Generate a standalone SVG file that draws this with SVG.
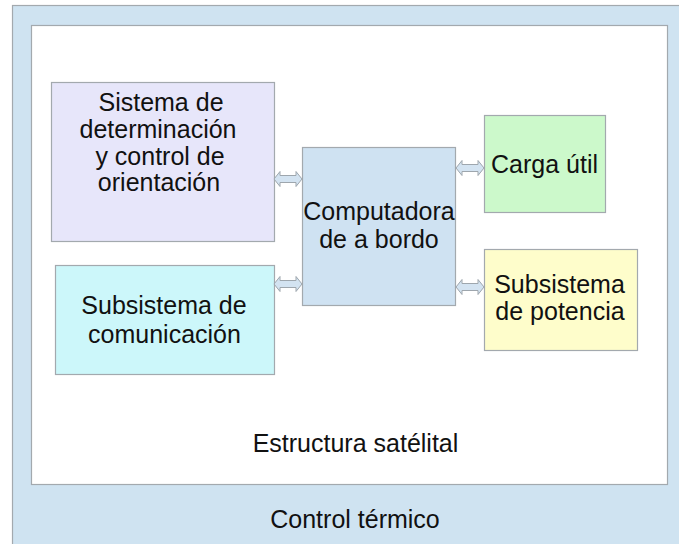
<svg xmlns="http://www.w3.org/2000/svg" width="679" height="544" viewBox="0 0 679 544">
<style>
  .box { stroke: #a3a9ae; stroke-width: 1.2; }
  .t { font-family: "Liberation Sans", Arial, sans-serif; font-size: 25px; fill: #111; text-anchor: middle; }
  .arr { fill: #d3e3f1; stroke: #9ea6ad; stroke-width: 1; }
</style>
<rect width="679" height="544" fill="#ffffff"/>
<g id="control-termico">
  <rect class="box" x="12.5" y="5.5" width="680" height="545" fill="#cfe3f1"/>
  <text class="t" x="355" y="528">Control térmico</text>
</g>
<g id="estructura-satelital">
  <rect class="box" x="31.5" y="25.5" width="636" height="459" fill="#ffffff"/>
  <text class="t" x="355.5" y="452">Estructura satélital</text>
</g>
<g id="orientacion">
  <rect class="box" x="51.5" y="82.5" width="223" height="159" fill="#e7e6fa"/>
  <text class="t" x="161" y="111">Sistema de</text>
  <text class="t" x="158" y="138">determinación</text>
  <text class="t" x="160" y="165">y control de</text>
  <text class="t" x="159" y="191">orientación</text>
</g>
<g id="comunicacion">
  <rect class="box" x="55.5" y="265.5" width="219" height="109" fill="#ccf7fa"/>
  <text class="t" x="164" y="314">Subsistema de</text>
  <text class="t" x="164.5" y="343">comunicación</text>
</g>
<g id="computadora">
  <rect class="box" x="302.5" y="147.5" width="153" height="158" fill="#cfe2f2"/>
  <text class="t" x="379" y="220">Computadora</text>
  <text class="t" x="379" y="248">de a bordo</text>
</g>
<g id="carga-util">
  <rect class="box" x="484.5" y="115.5" width="121" height="97" fill="#ccf9cb"/>
  <text class="t" x="544.5" y="173">Carga útil</text>
</g>
<g id="potencia">
  <rect class="box" x="484.5" y="249.5" width="153" height="101" fill="#fefdcb"/>
  <text class="t" x="559.5" y="292.5">Subsistema</text>
  <text class="t" x="560" y="320">de potencia</text>
</g>
<g id="connectors">
  <polygon class="arr" points="274,179 280,171.5 280,175.5 296,175.5 296,171.5 302,179 296,186.5 296,182.5 280,182.5 280,186.5"/>
  <polygon class="arr" points="274,284 280,276.5 280,280.5 296,280.5 296,276.5 302,284 296,291.5 296,287.5 280,287.5 280,291.5"/>
  <polygon class="arr" points="456,168 462,160.5 462,164.5 478,164.5 478,160.5 484,168 478,175.5 478,171.5 462,171.5 462,175.5"/>
  <polygon class="arr" points="456,287 462,279.5 462,283.5 478,283.5 478,279.5 484,287 478,294.5 478,290.5 462,290.5 462,294.5"/>
</g>
</svg>
